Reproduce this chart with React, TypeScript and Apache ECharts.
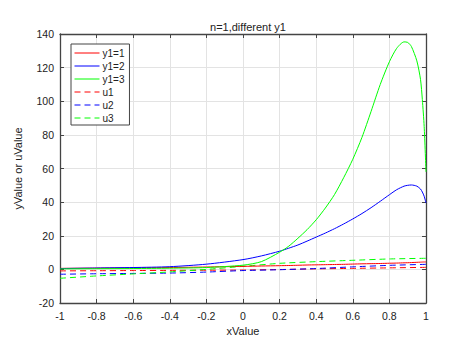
import React, { useEffect, useRef } from "react";
import * as echarts from "echarts";

const titleText = "n=1,different y1";
const xName = "xValue";
const yName = "yValue or uValue";

const xSolid = [-1, -0.8, -0.6, -0.4, -0.2, 0, 0.1, 0.2, 0.25, 0.3, 0.35, 0.4, 0.45, 0.5, 0.55, 0.6, 0.65, 0.7, 0.75, 0.8, 0.84, 0.88, 0.9, 0.92, 0.95, 0.97, 0.98, 0.99, 1.0];
const y1Values = [0.6, 0.75, 0.9, 1.1, 1.4, 1.8, 2.0, 2.2, 2.3, 2.45, 2.6, 2.7, 2.8, 2.9, 3.0, 3.15, 3.3, 3.4, 3.5, 3.65, 3.75, 3.9, 3.95, 4.05, 4.2, 4.3, 4.35, 4.4, 4.4];
const y2Values = [0.5, 0.8, 1.1, 1.6, 3.1, 5.8, 8.0, 10.8, 12.6, 14.5, 16.8, 19.2, 21.6, 24.2, 27.0, 30.0, 33.2, 36.7, 40.5, 44.4, 47.4, 49.5, 50.0, 50.2, 49.5, 47.8, 46.0, 43.5, 39.5];
const y3Values = [0.3, 0.4, 0.5, 0.7, 1.1, 2.5, 4.6, 10.2, 13.8, 18.5, 23.6, 29.5, 36.5, 44.5, 54.5, 65.5, 78.5, 94.0, 110.0, 123.5, 131.5, 135.3, 135.0, 132.6, 124.0, 113.0, 101.0, 85.0, 58.0];

const xDashed = [-1, -0.8, -0.6, -0.4, -0.2, 0, 0.2, 0.4, 0.6, 0.8, 1];
const u1Values = [-0.9, -0.8, -0.7, -0.6, -0.5, -0.4, -0.1, 0.3, 0.6, 0.9, 1.2];
const u2Values = [-2.9, -2.6, -2.4, -2.2, -1.6, -0.7, -0.2, 0.5, 1.5, 2.4, 3.0];
const u3Values = [-5.3, -3.9, -2.7, -1.5, 0.0, 1.8, 3.6, 4.6, 5.4, 6.2, 6.6];

const seriesNames = ["y1=1", "y1=2", "y1=3", "u1", "u2", "u3"];
const seriesColors = ["#ff0000", "#0000ff", "#00ff00", "#ff0000", "#0000ff", "#00ff00"];

const zip = (xs: number[], ys: number[]) => xs.map((x, i) => [x, ys[i]]);

export default function App() {
  const ref = useRef<HTMLDivElement>(null);
  useEffect(() => {
    if (!ref.current) return;
    const chart = echarts.init(ref.current, undefined, { renderer: "svg" });
    const font = "Liberation Sans, Arial, Helvetica, sans-serif";
    const datas = [
      zip(xSolid, y1Values),
      zip(xSolid, y2Values),
      zip(xSolid, y3Values),
      zip(xDashed, u1Values),
      zip(xDashed, u2Values),
      zip(xDashed, u3Values),
    ];
    const axisLine = { show: true, onZero: false, lineStyle: { color: "#444444", width: 1.3 } };
    const tick = { show: true, inside: true, length: 4, lineStyle: { color: "#444444" } };
    chart.setOption({
      animation: false,
      backgroundColor: "#ffffff",
      textStyle: { fontFamily: font },
      title: {
        text: titleText,
        left: 243,
        top: 16,
        textAlign: "center",
        textStyle: { fontSize: 11, fontWeight: "normal", color: "#222", fontFamily: font },
      },
      grid: { left: 60, right: 29, top: 34, bottom: 41, containLabel: false },
      legend: {
        orient: "vertical",
        left: 71,
        top: 44,
        itemWidth: 25,
        itemHeight: 12,
        itemGap: 1,
        padding: [3, 5, 1, 3],
        borderColor: "#444",
        borderWidth: 1,
        backgroundColor: "#ffffff",
        itemStyle: { opacity: 0 },
        lineStyle: { width: 1 },
        textStyle: { fontSize: 10, lineHeight: 12, color: "#222", fontFamily: font, padding: [0, 0, 0, -2] },
        data: seriesNames,
      },
      xAxis: [
        {
          type: "value",
          min: -1,
          max: 1,
          interval: 0.2,
          name: xName,
          nameLocation: "middle",
          nameGap: 21,
          nameTextStyle: { fontSize: 11, color: "#222" },
          axisLine,
          axisTick: tick,
          axisLabel: { fontSize: 10.5, color: "#222", margin: 7, formatter: (v: number) => String(+v.toFixed(1)) },
          splitLine: { show: true, lineStyle: { color: "#e3e3e3", width: 1 } },
        },
        {
          type: "value",
          position: "top",
          min: -1,
          max: 1,
          interval: 0.2,
          axisLine,
          axisTick: tick,
          axisLabel: { show: false },
          splitLine: { show: false },
        },
      ],
      yAxis: [
        {
          type: "value",
          min: -20,
          max: 140,
          interval: 20,
          name: yName,
          nameLocation: "middle",
          nameGap: 37,
          nameTextStyle: { fontSize: 11, color: "#222" },
          axisLine,
          axisTick: tick,
          axisLabel: { fontSize: 10.5, color: "#222", margin: 6 },
          splitLine: { show: true, lineStyle: { color: "#e3e3e3", width: 1 } },
        },
        {
          type: "value",
          position: "right",
          min: -20,
          max: 140,
          interval: 20,
          axisLine,
          axisTick: tick,
          axisLabel: { show: false },
          splitLine: { show: false },
        },
      ],
      series: seriesNames.map((name, i) => ({
        name,
        type: "line",
        data: datas[i],
        smooth: i < 3 ? 0.25 : 0.2,
        symbol: "none",
        showSymbol: false,
        color: seriesColors[i],
        lineStyle: {
          color: seriesColors[i],
          width: 1,
          type: i < 3 ? "solid" : [6, 4],
        },
        z: i < 3 ? 3 : 2,
      })),
    });
    return () => chart.dispose();
  }, []);
  return (
    <div
      ref={ref}
      style={{ position: "fixed", left: 0, top: 0, width: 455, height: 344, background: "#fff" }}
    />
  );
}
